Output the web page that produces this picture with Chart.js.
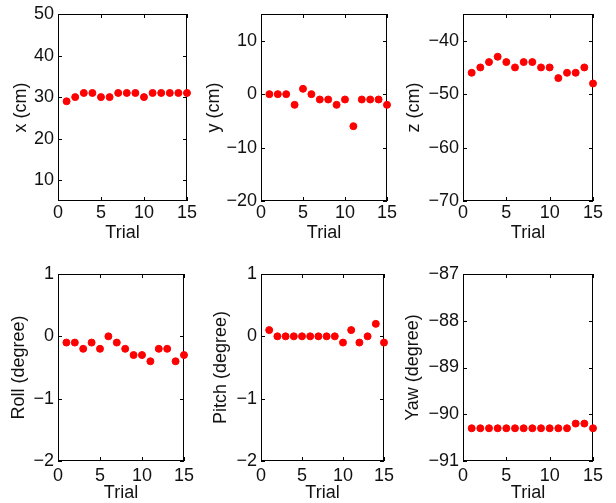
<!DOCTYPE html>
<html>
<head>
<meta charset="utf-8">
<script src="https://cdn.jsdelivr.net/npm/chart.js@4"></script>
<style>
  html, body { margin: 0; padding: 0; background: #fff; }
  #wrap { position: relative; width: 616px; height: 503px; }
  .cell { position: absolute; }
</style>
</head>
<body>
<div id="wrap"></div>
<script>
// trials and measured values per panel
const trials = [1, 2, 3, 4, 5, 6, 7, 8, 9, 10, 11, 12, 13, 14, 15];
const xCm = [29, 30, 31, 31, 30, 30, 31, 31, 31, 30, 31, 31, 31, 31, 31];
const yCm = [0, 0, 0, -2, 1, 0, -1, -1, -2, -1, -6, -1, -1, -1, -2];
const zCm = [-46, -45, -44, -43, -44, -45, -44, -44, -45, -45, -47, -46, -46, -45, -48];
const rollDeg = [-0.1, -0.1, -0.2, -0.1, -0.2, 0, -0.1, -0.2, -0.3, -0.3, -0.4, -0.2, -0.2, -0.4, -0.3];
const pitchDeg = [0.1, 0, 0, 0, 0, 0, 0, 0, 0, -0.1, 0.1, -0.1, 0, 0.2, -0.1];
const yawDeg = [-90.3, -90.3, -90.3, -90.3, -90.3, -90.3, -90.3, -90.3, -90.3, -90.3, -90.3, -90.3, -90.2, -90.2, -90.3];

const trialTicks = [0, 5, 10, 15];
const xTicks = [10, 20, 30, 40, 50];
const yTicks = [-20, -10, 0, 10];
const zTicks = [-70, -60, -50, -40];
const rollTicks = [-2, -1, 0, 1];
const pitchTicks = [-2, -1, 0, 1];
const yawTicks = [-91, -90, -89, -88, -87];

const FONT = { family: '"Liberation Sans", Arial, Helvetica, sans-serif', size: 18, lineHeight: 1 };
const INK = '#111';

// cell = canvas box on the page, area = wanted plot box inside it, t = y title centre
const panels = [
  { title: 'x (cm)', values: xCm, min: 5, max: 50, ticks: xTicks,
    cell: [0, 0, 200, 250], area: [58, 189, 14, 201], t: 21, xpad: 3, tpad: 8 },
  { title: 'y (cm)', values: yCm, min: -20, max: 15, ticks: yTicks,
    cell: [200, 0, 200, 250], area: [61, 191, 14, 201], t: 14, xpad: 3, tpad: 8 },
  { title: 'z (cm)', values: zCm, min: -70, max: -35, ticks: zTicks,
    cell: [400, 0, 216, 250], area: [63, 193, 14, 201], t: 14, xpad: 3, tpad: 8 },
  { title: 'Roll (degree)', values: rollDeg, min: -2, max: 1, ticks: rollTicks,
    cell: [0, 250, 200, 253], area: [58, 189, 24, 211], t: 19, xpad: 6, tpad: 1 },
  { title: 'Pitch (degree)', values: pitchDeg, min: -2, max: 1, ticks: pitchTicks,
    cell: [200, 250, 200, 253], area: [61, 191, 24, 211], t: 21, xpad: 6, tpad: 1 },
  { title: 'Yaw (degree)', values: yawDeg, min: -91, max: -87, ticks: yawTicks,
    cell: [400, 250, 216, 253], area: [63, 193, 24, 211], t: 13, xpad: 6, tpad: 1 }
];

const fmt = v => (v < 0 ? '\u2212' + Math.abs(v) : String(v));

// MATLAB-like box with inward tick marks on all four sides
const frame = {
  id: 'frame',
  beforeDatasetsDraw(chart) {
    const { ctx, chartArea: a, scales: { x, y } } = chart;
    const L = 4;
    ctx.save();
    ctx.strokeStyle = '#000';
    ctx.lineWidth = 1;
    ctx.strokeRect(a.left + 0.5, a.top + 0.5, a.width - 1, a.height - 1);
    ctx.beginPath();
    x.ticks.forEach(t => {
      const px = Math.round(x.getPixelForValue(t.value)) + 0.5;
      ctx.moveTo(px, a.bottom); ctx.lineTo(px, a.bottom - L);
      ctx.moveTo(px, a.top); ctx.lineTo(px, a.top + L);
    });
    y.ticks.forEach(t => {
      const py = Math.round(y.getPixelForValue(t.value)) + 0.5;
      ctx.moveTo(a.left, py); ctx.lineTo(a.left + L, py);
      ctx.moveTo(a.right, py); ctx.lineTo(a.right - L, py);
    });
    ctx.stroke();
    ctx.restore();
  }
};

const wrap = document.getElementById('wrap');

panels.forEach(p => {
  const [cx, cy, cw, ch] = p.cell;
  const [l, r, t, b] = p.area;
  const div = document.createElement('div');
  div.className = 'cell';
  div.style.left = cx + 'px';
  div.style.top = cy + 'px';
  div.style.width = cw + 'px';
  div.style.height = ch + 'px';
  const canvas = document.createElement('canvas');
  div.appendChild(canvas);
  wrap.appendChild(div);

  new Chart(canvas, {
    type: 'scatter',
    data: {
      datasets: [{
        data: trials.map((tr, i) => ({ x: tr, y: p.values[i] })),
        backgroundColor: '#ff0000',
        borderColor: '#ff0000',
        pointRadius: 3.5,
        pointHoverRadius: 3.5,
        clip: false
      }]
    },
    options: {
      responsive: true,
      maintainAspectRatio: false,
      animation: false,
      events: [],
      layout: { padding: { left: 0, top: t, right: cw - r, bottom: 0 } },
      plugins: { legend: { display: false }, tooltip: { enabled: false } },
      scales: {
        x: {
          type: 'linear', min: 0, max: 15,
          afterBuildTicks: s => { s.ticks = trialTicks.map(v => ({ value: v })); },
          afterFit: s => { s.height = ch - b; },
          grid: { display: false, drawTicks: false },
          border: { display: false },
          ticks: { color: INK, font: FONT, padding: p.xpad, maxRotation: 0, callback: fmt },
          title: { display: true, text: 'Trial', color: INK, font: FONT, padding: { top: 0, bottom: p.tpad } }
        },
        y: {
          type: 'linear', min: p.min, max: p.max,
          afterBuildTicks: s => { s.ticks = p.ticks.map(v => ({ value: v })); },
          afterFit: s => { s.width = l; },
          grid: { display: false, drawTicks: false },
          border: { display: false },
          ticks: { color: INK, font: FONT, padding: 4, callback: fmt },
          title: { display: true, text: p.title, color: INK, font: FONT, padding: { top: p.t - 9, bottom: 0 } }
        }
      }
    },
    plugins: [frame]
  });
});
</script>
</body>
</html>
